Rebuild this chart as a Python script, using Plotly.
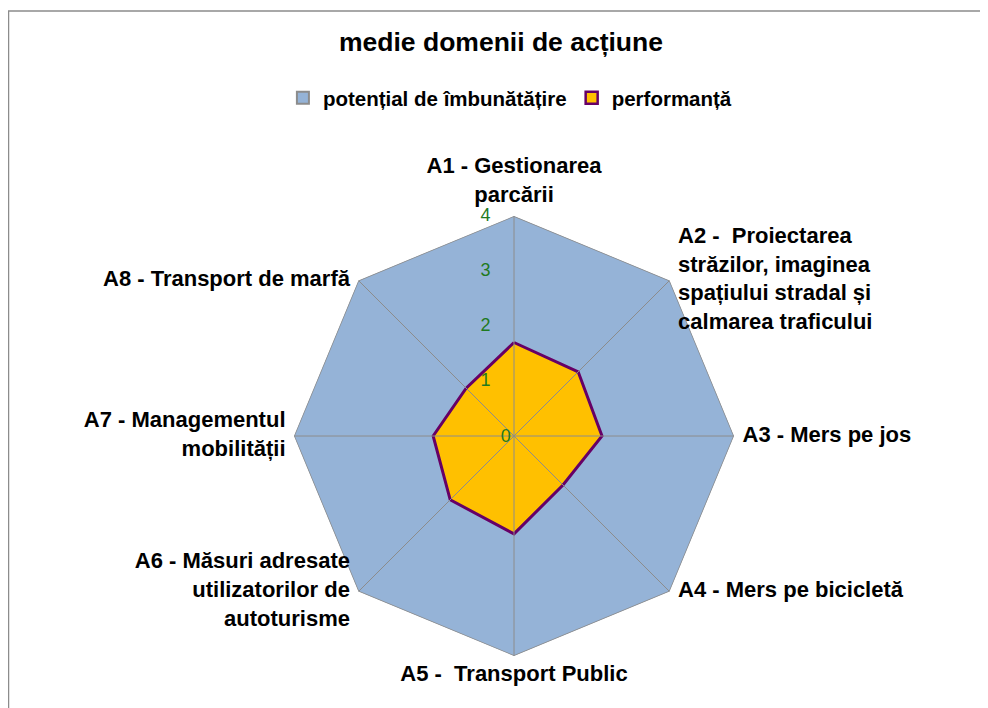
import plotly.graph_objects as go

categories = [
    "A1 - Gestionarea<br>parcării",
    "A2 -  Proiectarea<br>străzilor, imaginea<br>spațiului stradal și<br>calmarea traficului",
    "A3 - Mers pe jos",
    "A4 - Mers pe bicicletă",
    "A5 -  Transport Public",
    "A6 - Măsuri adresate<br>utilizatorilor de<br>autoturisme",
    "A7 - Managementul<br>mobilității",
    "A8 - Transport de marfă",
]
potential = [4, 4, 4, 4, 4, 4, 4, 4]
performance = [1.70, 1.65, 1.60, 1.26, 1.78, 1.64, 1.47, 1.23]
radial_ticks = [0, 1, 2, 3, 4]

font = "Liberation Sans, Arial, sans-serif"
label_pos = ["top center", "middle right", "middle right", "middle right",
             "bottom center", "middle left", "middle left", "middle left"]

fig = go.Figure()
fig.add_trace(go.Scatterpolar(
    r=potential + potential[:1], theta=categories + categories[:1],
    mode="lines", fill="toself", showlegend=False,
    fillcolor="#95B3D7", line=dict(color="#8C8C8C", width=1.5),
))
fig.add_trace(go.Scatterpolar(
    r=performance + performance[:1], theta=categories + categories[:1],
    mode="lines", fill="toself", showlegend=False,
    fillcolor="#FFC000", line=dict(color="#660066", width=3),
))
# spokes drawn over the filled series
for cat, top in zip(categories, potential):
    fig.add_trace(go.Scatterpolar(
        r=[0, top], theta=[cat, cat], mode="lines", showlegend=False,
        hoverinfo="skip", line=dict(color="#8C8C8C", width=1),
    ))
# category labels at the outer vertices
fig.add_trace(go.Scatterpolar(
    r=potential, theta=categories, mode="markers+text", showlegend=False,
    text=["<b>" + c + "</b>" for c in categories], textposition=label_pos,
    textfont=dict(size=22, color="black", family=font),
    marker=dict(size=12, opacity=0), hoverinfo="skip", cliponaxis=False,
))
# radial tick labels 1..4, left of the first spoke (0 comes from the axis itself)
fig.add_trace(go.Scatterpolar(
    r=radial_ticks[1:], theta=[categories[0]] * len(radial_ticks[1:]),
    mode="markers+text", showlegend=False,
    text=[str(v) for v in radial_ticks[1:]], textposition="middle left",
    textfont=dict(size=18, color="#1F7A1F", family=font),
    marker=dict(size=36, opacity=0), hoverinfo="skip", cliponaxis=False,
))
# legend entries
fig.add_trace(go.Scatterpolar(
    r=[None], theta=[categories[0]], mode="markers", name="<b>potențial de îmbunătățire</b>",
    marker=dict(symbol="square", size=12, color="#95B3D7",
                line=dict(color="#8C8C8C", width=2)),
))
fig.add_trace(go.Scatterpolar(
    r=[None], theta=[categories[0]], mode="markers", name="<b>performanță</b>",
    marker=dict(symbol="square", size=12, color="#FFC000",
                line=dict(color="#660066", width=2.5)),
))

fig.update_layout(
    width=988, height=708,
    margin=dict(l=0, r=0, t=0, b=0),
    paper_bgcolor="white",
    font=dict(family=font, color="black"),
    title=dict(text="<b>medie domenii de acțiune</b>", x=0.499, xanchor="center",
               y=1 - 34 / 708, yanchor="middle", font=dict(size=26.5)),
    legend=dict(orientation="h", x=0.508, xanchor="center", y=1 - 90 / 708,
                yanchor="middle", font=dict(size=20.5), itemwidth=30,
                traceorder="normal"),
    polar=dict(
        domain=dict(x=[286 / 988, 726 / 988], y=[60 / 708, 500 / 708]),
        bgcolor="rgba(0,0,0,0)",
        gridshape="linear",
        angularaxis=dict(direction="clockwise", rotation=90, showline=False,
                         showgrid=False, ticks="", showticklabels=False),
        radialaxis=dict(range=[0, 4], tickvals=radial_ticks[:1], showgrid=False,
                        showline=False, ticks="", angle=90, tickangle=90,
                        side="counterclockwise", layer="above traces",
                        tickfont=dict(size=18, color="#1F7A1F", family=font)),
    ),
    shapes=[dict(type="rect", xref="paper", yref="paper",
                 x0=0.5 / 988, x1=1.02, y0=-0.02, y1=1 - 3 / 708,
                 line=dict(color="#8C8C8C", width=1.5))],
)

fig.write_html("out.html")
